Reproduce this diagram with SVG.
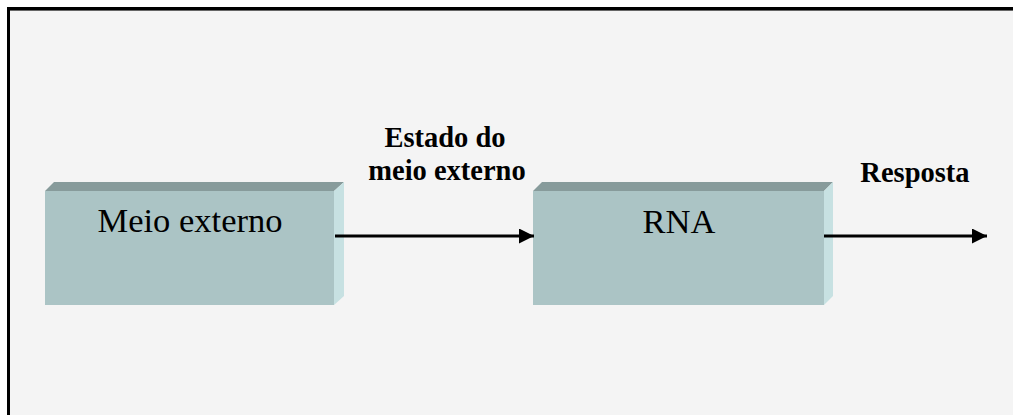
<svg xmlns="http://www.w3.org/2000/svg" width="1013" height="415" viewBox="0 0 1013 415">
<style>
.front{fill:#abc4c5}
.top{fill:#879b9b}
.side{fill:#c7e1e2}
.lbl{font-family:"Liberation Serif","Times New Roman",serif;font-size:34.5px;fill:#000;text-anchor:middle}
.bold{font-family:"Liberation Serif","Times New Roman",serif;font-size:28.5px;font-weight:bold;fill:#000;text-anchor:middle}
.conn{stroke:#000;stroke-width:3;fill:none}
</style>
<defs>
<marker id="ah" markerUnits="userSpaceOnUse" markerWidth="16" markerHeight="15" refX="15" refY="7.5" orient="auto">
<path d="M0,0 L15,7.5 L0,15 Z" fill="#000"/>
</marker>
</defs>
<rect x="0" y="0" width="1013" height="415" fill="#fff"/>
<rect x="8.5" y="8.5" width="1012" height="420" fill="#f4f4f4" stroke="#000" stroke-width="3"/>
<line x1="10" y1="10.5" x2="1013" y2="10.5" stroke="#666" stroke-width="1"/>
<g id="meio-externo">
<polygon class="top" points="45,191 54,182 344,182 334,191"/>
<polygon class="side" points="334,191 344,182 344,296 334,305"/>
<rect class="front" x="45" y="191" width="289" height="114"/>
<text class="lbl" x="190" y="232">Meio externo</text>
</g>
<g id="rna">
<polygon class="top" points="533,191 542,182 833,182 824,191"/>
<polygon class="side" points="824,191 833,182 833,296 824,305"/>
<rect class="front" x="533" y="191" width="291" height="114"/>
<text class="lbl" x="679" y="233">RNA</text>
</g>
<g id="connectors">
<line class="conn" x1="335" y1="236" x2="534" y2="236" marker-end="url(#ah)"/>
<line class="conn" x1="824" y1="236" x2="987" y2="236" marker-end="url(#ah)"/>
</g>
<g id="labels">
<text class="bold" x="445" y="147">Estado do</text>
<text class="bold" x="447" y="180">meio externo</text>
<text class="bold" x="915" y="182">Resposta</text>
</g>
</svg>
